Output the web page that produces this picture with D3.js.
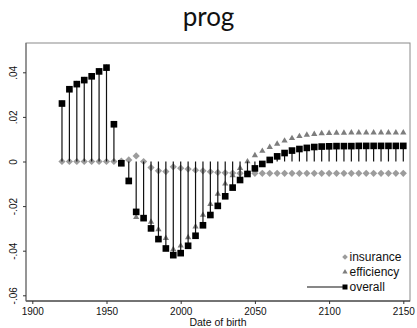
<!DOCTYPE html>
<html><head><meta charset="utf-8">
<script src="https://cdn.jsdelivr.net/npm/d3@7"></script>
<style>html,body{margin:0;padding:0;background:#fff;}svg{display:block;}</style>
</head><body>
<script>
const years = [1920,1925,1930,1935,1940,1945,1950,1955,1960,1965,1970,1975,1980,1985,1990,1995,2000,2005,2010,2015,2020,2025,2030,2035,2040,2045,2050,2055,2060,2065,2070,2075,2080,2085,2090,2095,2100,2105,2110,2115,2120,2125,2130,2135,2140,2145,2150];
const insurance = [0,0,0,0,0,0,0,0,
  0.0002,0.0007,0.0025,0.0000,-0.0027,-0.0042,-0.0045,-0.0024,-0.0030,-0.0034,-0.0039,-0.0042,-0.0046,-0.0049,-0.0051,
  -0.0052,-0.0053,-0.0053,-0.0053,-0.0053,-0.0053,-0.0053,-0.0053,-0.0053,-0.0053,-0.0053,-0.0053,-0.0053,-0.0053,-0.0053,-0.0053,-0.0053,-0.0053,-0.0053,-0.0053,-0.0053,-0.0053,-0.0053,-0.0053];
const efficiency = [0.0260,0.0324,0.0347,0.0365,0.0382,0.0404,0.0421,0.0167,
  -0.0010,-0.0094,-0.0250,-0.0254,-0.0271,-0.0305,-0.0344,-0.0394,-0.0378,-0.0340,-0.0292,-0.0240,-0.0191,-0.0145,-0.0100,
  -0.0062,-0.0030,0.0000,0.0027,0.0047,0.0064,0.0079,0.0093,0.0104,0.0113,0.0119,0.0123,0.0126,0.0127,0.0128,0.0128,0.0129,0.0129,0.0129,0.0129,0.0129,0.0129,0.0129,0.0129];
const overall = [0.0260,0.0324,0.0347,0.0365,0.0382,0.0404,0.0421,0.0167,
  -0.0008,-0.0087,-0.0226,-0.0254,-0.0300,-0.0348,-0.0390,-0.0420,-0.0411,-0.0378,-0.0333,-0.0286,-0.0240,-0.0199,-0.0156,
  -0.0117,-0.0083,-0.0056,-0.0031,-0.0011,0.0007,0.0023,0.0038,0.0049,0.0056,0.0061,0.0065,0.0067,0.0068,0.0069,0.0069,0.0069,0.0070,0.0070,0.0070,0.0070,0.0070,0.0070,0.0070];
const xTicks = [1900,1950,2000,2050,2100,2150];
const yTicks = [0.04,0.02,0,-0.02,-0.04,-0.06];
const yTickLabels = [".04",".02","0","-.02","-.04","-.06"];
const seriesNames = ["insurance","efficiency","overall"];
const titleText = "prog";
const xTitle = "Date of birth";

const W = 417, H = 328;
const frame = {l: 26, r: 410, t: 43, b: 301};
const x = d3.scaleLinear().domain([1900, 2150]).range([32.3, 403.3]);
const y = d3.scaleLinear().domain([0.04, -0.06]).range([72.3, 295.3]);

const svg = d3.select("body").append("svg").attr("width", W).attr("height", H);
const font = "'Liberation Sans', Arial, sans-serif";

// title
svg.append("text").attr("x", 208.5).attr("y", 26).attr("text-anchor", "middle")
  .attr("font-family", "Lato, 'Open Sans', sans-serif").attr("font-size", 26).attr("fill", "#111").text(titleText);

// frame
svg.append("rect").attr("x", frame.l).attr("y", frame.t).attr("width", frame.r - frame.l).attr("height", frame.b - frame.t)
  .attr("fill", "none").attr("stroke", "#8a8a8a").attr("stroke-width", 1);
svg.append("line").attr("x1", frame.l).attr("x2", frame.r).attr("y1", frame.b).attr("y2", frame.b).attr("stroke", "#222").attr("stroke-width", 1);
svg.append("line").attr("x1", frame.l).attr("x2", frame.l).attr("y1", frame.t).attr("y2", frame.b).attr("stroke", "#666").attr("stroke-width", 1);

// axes
const xAxis = d3.axisBottom(x).tickValues(xTicks).tickSize(3).tickPadding(4).tickFormat(d3.format("d"));
const gx = svg.append("g").attr("transform", `translate(0,${frame.b})`).call(xAxis);
gx.select(".domain").remove();
gx.selectAll("line").attr("stroke", "#333");
gx.selectAll("text").attr("font-family", font).attr("font-size", 10).attr("fill", "#111");

const yAxis = d3.axisLeft(y).tickValues(yTicks).tickSize(3).tickFormat((d, i) => yTickLabels[i]);
const gy = svg.append("g").attr("transform", `translate(${frame.l},0)`).call(yAxis);
gy.select(".domain").remove();
gy.selectAll("line").attr("stroke", "#333");
gy.selectAll("text").attr("font-family", font).attr("font-size", 10).attr("fill", "#111")
  .attr("text-anchor", "middle").attr("dy", 0).attr("x", 0)
  .attr("transform", "translate(-9,0) rotate(-90)");

svg.append("text").attr("x", (frame.l + frame.r) / 2).attr("y", 326).attr("text-anchor", "middle")
  .attr("font-family", font).attr("font-size", 10.5).attr("fill", "#111").text(xTitle);

const data = years.map((yr, i) => ({yr, ins: insurance[i], eff: efficiency[i], ov: overall[i]}));
const diamond = d3.symbol().type(d3.symbolSquare).size(26);
const tri = d3.symbol().type(d3.symbolTriangle).size(17);
const sq = d3.symbol().type(d3.symbolSquare).size(44);

// insurance diamonds
svg.append("g").selectAll("path").data(data).join("path")
  .attr("d", diamond).attr("fill", "#9c9c9c")
  .attr("transform", d => `translate(${x(d.yr)},${y(d.ins)}) rotate(45)`);
// efficiency triangles
svg.append("g").selectAll("path").data(data).join("path")
  .attr("d", tri).attr("fill", "#7d7d7d")
  .attr("transform", d => `translate(${x(d.yr)},${y(d.eff)})`);
// overall droplines
svg.append("g").selectAll("line").data(data).join("line")
  .attr("x1", d => x(d.yr)).attr("x2", d => x(d.yr))
  .attr("y1", y(0)).attr("y2", d => y(d.ov))
  .attr("stroke", "#111").attr("stroke-width", 1.2);
svg.append("g").selectAll("path").data(data).join("path")
  .attr("d", sq).attr("fill", "#000")
  .attr("transform", d => `translate(${x(d.yr)},${y(d.ov)})`);

// legend
const lg = svg.append("g");
const lx = 345, ly = [257, 272, 287];
lg.append("path").attr("d", d3.symbol().type(d3.symbolSquare).size(16)).attr("fill", "#9c9c9c")
  .attr("transform", `translate(${lx},${ly[0]}) rotate(45)`);
lg.append("path").attr("d", d3.symbol().type(d3.symbolTriangle).size(12)).attr("fill", "#7d7d7d")
  .attr("transform", `translate(${lx},${ly[1]})`);
lg.append("line").attr("x1", 307).attr("x2", lx).attr("y1", ly[2]).attr("y2", ly[2]).attr("stroke", "#111").attr("stroke-width", 1.2);
lg.append("path").attr("d", d3.symbol().type(d3.symbolSquare).size(25)).attr("fill", "#000")
  .attr("transform", `translate(${lx},${ly[2]})`);
seriesNames.forEach((n, i) => {
  lg.append("text").attr("x", 349.5).attr("y", ly[i]).attr("dy", "0.35em")
    .attr("font-family", font).attr("font-size", 12).attr("fill", "#111").text(n);
});
</script>
</body></html>
